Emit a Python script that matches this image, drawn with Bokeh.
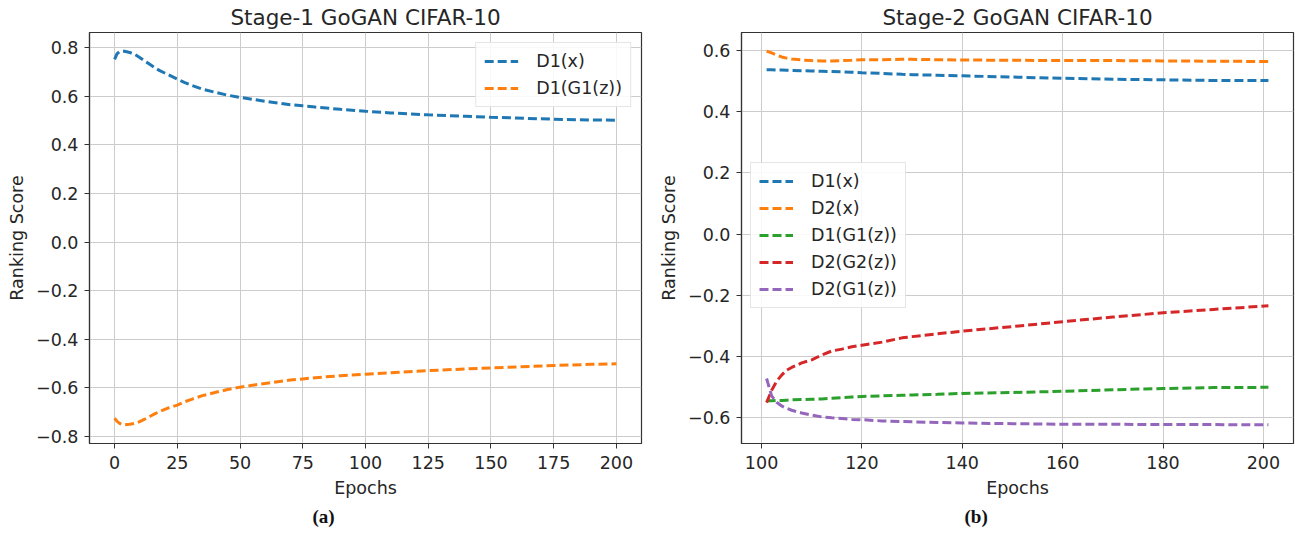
from bokeh.plotting import figure
from bokeh.models import (FixedTicker, CustomJSTickFormatter, Legend, LegendItem,
                          Range1d, Title)
from bokeh.layouts import row
from bokeh.embed import file_html
from bokeh.resources import INLINE

# ---------------- data ----------------
# Stage-1
epochs1 = [0, 1, 2, 3, 4, 6, 8, 10, 12, 14, 16, 18, 21, 25, 28, 31, 35, 40, 45, 50,
           55, 60, 65, 70, 75, 80, 90, 100, 110, 125, 140, 150, 160, 175, 190, 200]
s1_d1x = [0.752, 0.776, 0.784, 0.786, 0.786, 0.781, 0.773, 0.760, 0.746, 0.732, 0.718,
          0.706, 0.691, 0.671, 0.657, 0.644, 0.630, 0.617, 0.605, 0.596, 0.588, 0.580,
          0.573, 0.566, 0.561, 0.556, 0.547, 0.539, 0.532, 0.524, 0.518, 0.514, 0.511,
          0.506, 0.503, 0.502]
s1_d1g1z = [-0.725, -0.738, -0.746, -0.751, -0.752, -0.750, -0.746, -0.739, -0.729,
            -0.718, -0.707, -0.697, -0.684, -0.671, -0.657, -0.646, -0.632, -0.619,
            -0.607, -0.597, -0.589, -0.582, -0.575, -0.568, -0.563, -0.558, -0.550,
            -0.544, -0.538, -0.529, -0.522, -0.518, -0.514, -0.508, -0.503, -0.501]

# Stage-2
epochs2 = [101, 102, 103, 104, 105, 106, 108, 110, 112, 114, 116, 118, 120, 124, 128,
           130, 135, 140, 150, 160, 170, 180, 190, 201]
s2_d1x = [0.538, 0.538, 0.537, 0.537, 0.536, 0.536, 0.535, 0.534, 0.533, 0.532, 0.531,
          0.530, 0.528, 0.526, 0.523, 0.522, 0.520, 0.518, 0.514, 0.510, 0.507, 0.505,
          0.503, 0.503]
s2_d2x = [0.599, 0.593, 0.586, 0.580, 0.576, 0.573, 0.570, 0.568, 0.567, 0.567, 0.568,
          0.569, 0.571, 0.571, 0.572, 0.572, 0.571, 0.570, 0.569, 0.568, 0.568, 0.567,
          0.566, 0.565]
s2_d1g1z = [-0.546, -0.546, -0.545, -0.545, -0.544, -0.543, -0.542, -0.541, -0.540,
            -0.538, -0.536, -0.534, -0.532, -0.530, -0.528, -0.527, -0.525, -0.522,
            -0.519, -0.515, -0.510, -0.506, -0.503, -0.502]
s2_d2g2z = [-0.552, -0.512, -0.482, -0.462, -0.446, -0.437, -0.422, -0.412, -0.396,
            -0.383, -0.377, -0.369, -0.364, -0.354, -0.340, -0.336, -0.327, -0.318,
            -0.303, -0.287, -0.272, -0.258, -0.247, -0.235]
s2_d2g1z = [-0.473, -0.530, -0.551, -0.563, -0.571, -0.577, -0.586, -0.593, -0.599,
            -0.602, -0.604, -0.607, -0.608, -0.612, -0.614, -0.615, -0.617, -0.619,
            -0.621, -0.623, -0.623, -0.624, -0.624, -0.625]

xticks1 = [0, 25, 50, 75, 100, 125, 150, 175, 200]
yticks1 = [-0.8, -0.6, -0.4, -0.2, 0.0, 0.2, 0.4, 0.6, 0.8]
xticks2 = [100, 120, 140, 160, 180, 200]
yticks2 = [-0.6, -0.4, -0.2, 0.0, 0.2, 0.4, 0.6]

labels1 = ["D1(x)", "D1(G1(z))"]
labels2 = ["D1(x)", "D2(x)", "D1(G1(z))", "D2(G2(z))", "D2(G1(z))"]
colors = ["#1f77b4", "#ff7f0e", "#2ca02c", "#d62728", "#9467bd"]

FONT = "DejaVu Sans"
TXT = "#262626"
FS = "17.5px"

fmt = CustomJSTickFormatter(code="return tick.toFixed(1).replace('-', '\u2212');")


def make_fig(width, bl, br, xr, yr, xticks, yticks, title, caption, cap_offset):
    p = figure(width=width, height=533, output_backend="svg", toolbar_location=None,
               x_range=Range1d(*xr), y_range=Range1d(*yr),
               min_border_left=bl, min_border_right=br,
               min_border_top=32, min_border_bottom=90)
    p.background_fill_color = "white"
    p.border_fill_color = "white"
    p.outline_line_color = "#333333"
    p.outline_line_width = 1.2
    p.title.text = title
    p.title.align = "center"
    p.title.text_font = FONT
    p.title.text_font_size = "21.5px"
    p.title.text_font_style = "normal"
    p.title.text_color = TXT
    p.title.standoff = 5
    for ax in (p.xaxis[0], p.yaxis[0]):
        ax.major_label_text_font = FONT
        ax.major_label_text_font_size = FS
        ax.major_label_text_color = TXT
        ax.axis_label_text_font = FONT
        ax.axis_label_text_font_size = FS
        ax.axis_label_text_font_style = "normal"
        ax.axis_label_text_color = TXT
        ax.axis_line_color = "#333333"
        ax.axis_line_width = 1.2
        ax.major_tick_line_color = "#333333"
        ax.major_tick_out = 5
        ax.major_tick_in = 0
        ax.minor_tick_line_color = None
        ax.major_label_standoff = 6
        ax.axis_label_standoff = 6
    p.xaxis.major_label_standoff = 7
    p.xaxis.ticker = FixedTicker(ticks=xticks)
    p.yaxis.ticker = FixedTicker(ticks=yticks)
    p.yaxis.formatter = fmt
    p.xaxis.axis_label = "Epochs"
    p.yaxis.axis_label = "Ranking Score"
    p.grid.grid_line_color = "#cccccc"
    p.grid.grid_line_width = 1
    cap = Title(text=caption, align="left", offset=cap_offset,
                text_font="Liberation Serif", text_font_style="bold",
                text_font_size="19px", text_color="#111111", standoff=7)
    p.add_layout(cap, "below")
    return p


def add_lines(p, x, series, labels):
    items = []
    for i, (ys, lab) in enumerate(zip(series, labels)):
        r = p.line(x, ys, line_color=colors[i], line_width=3, line_dash="9 4")
        items.append(LegendItem(label=lab, renderers=[r]))
    return items


def style_legend(lg):
    lg.label_text_font = FONT
    lg.label_text_font_size = FS
    lg.label_text_color = TXT
    lg.glyph_width = 34
    lg.glyph_height = 20
    lg.label_height = 20
    lg.label_standoff = 18
    lg.spacing = 7
    lg.padding = 8
    lg.border_line_color = "#cccccc"
    lg.border_line_width = 1
    lg.background_fill_alpha = 0.85


p1 = make_fig(655, 89, 14, (-10, 210), (-0.829, 0.863), xticks1, yticks1,
              "Stage-1 GoGAN CIFAR-10", "(a)", 223)
items1 = add_lines(p1, epochs1, [s1_d1x, s1_d1g1z], labels1)
lg1 = Legend(items=items1, location="top_right", margin=10)
style_legend(lg1)
p1.add_layout(lg1)

p2 = make_fig(640, 86, 2, (96, 206), (-0.686, 0.660), xticks2, yticks2,
              "Stage-2 GoGAN CIFAR-10", "(b)", 223)
items2 = add_lines(p2, epochs2, [s2_d1x, s2_d2x, s2_d1g1z, s2_d2g2z, s2_d2g1z], labels2)
lg2 = Legend(items=items2, location=(9, 135))
style_legend(lg2)
p2.add_layout(lg2)

layout = row(p1, p2)
open("out.html", "w").write(file_html(layout, INLINE))
